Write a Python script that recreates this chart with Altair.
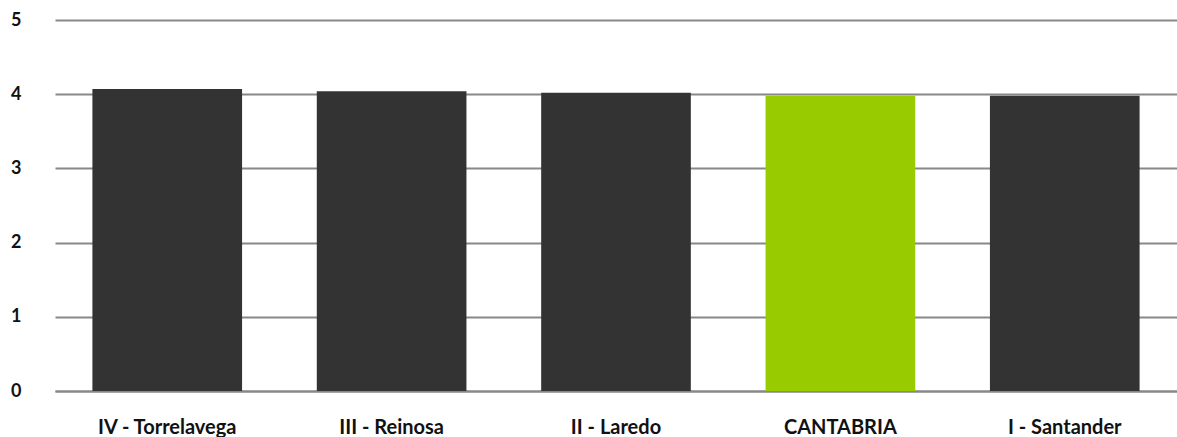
import altair as alt
import pandas as pd

categories = ["IV - Torrelavega", "III - Reinosa", "II - Laredo", "CANTABRIA", "I - Santander"]
values = [4.07, 4.04, 4.02, 3.98, 3.98]
colors = ["#333333", "#333333", "#333333", "#99CC00", "#333333"]

df = pd.DataFrame({"cat": categories, "val": values, "col": colors})

chart = alt.Chart(df).mark_bar().encode(
    x=alt.X("cat:N", sort=categories, title=None,
            scale=alt.Scale(paddingInner=0.333, paddingOuter=0.1667),
            axis=alt.Axis(labelAngle=0, labelFont="Lato", labelFontWeight="bold",
                          labelFontSize=20, labelColor="#111111", labelPadding=26,
                          ticks=False, grid=False, domainColor="#888888", domainWidth=2)),
    y=alt.Y("val:Q", title=None, scale=alt.Scale(domain=[0, 5]),
            axis=alt.Axis(values=[0, 1, 2, 3, 4, 5], format="d", labelFont="Lato",
                          labelFontWeight="bold", labelFontSize=18, labelColor="#111111",
                          labelPadding=34, ticks=False, domain=False,
                          gridColor="#888888", gridWidth=2)),
    color=alt.Color("col:N", scale=None),
).properties(
    width=1122, height=371,
    background="white",
    autosize=alt.AutoSizeParams(type="none"),
    padding={"left": 55, "top": 20, "right": 0, "bottom": 46},
).configure_view(stroke=None, strokeWidth=0)

chart.save("out.html", embed_options={"renderer": "svg", "actions": False})
